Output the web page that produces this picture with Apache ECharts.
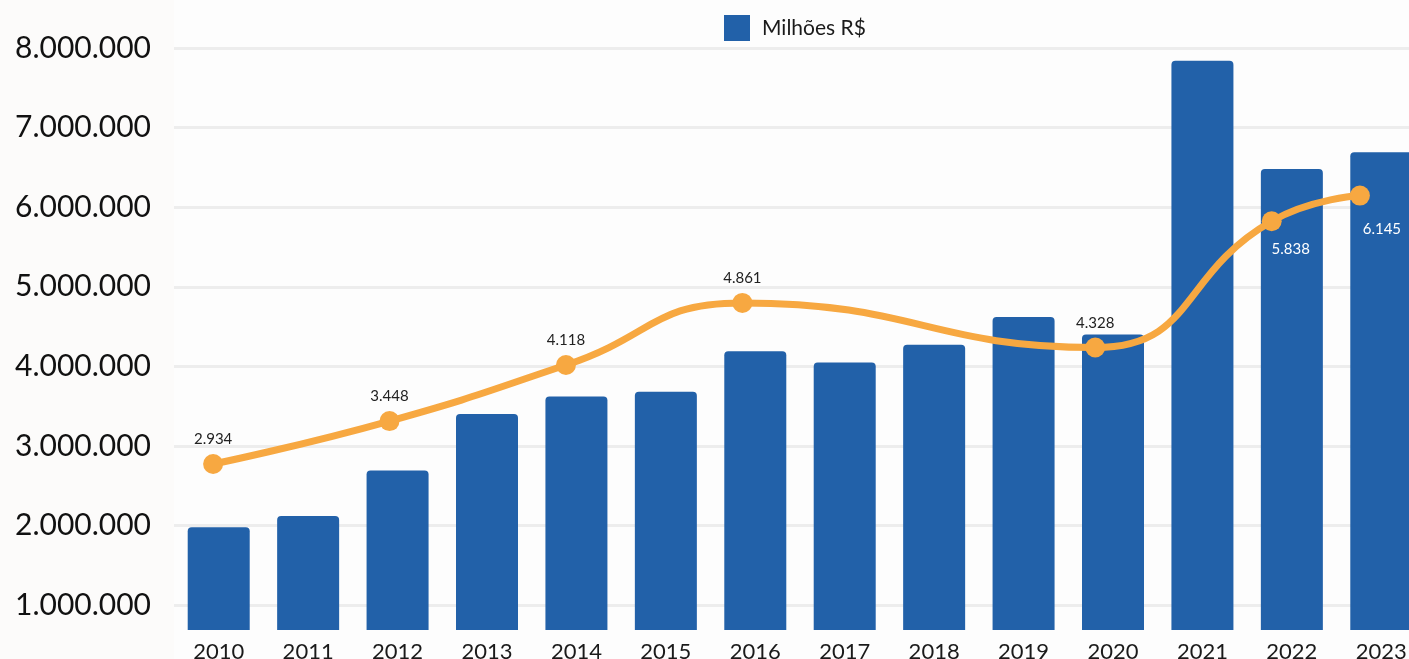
<!DOCTYPE html>
<html>
<head>
<meta charset="utf-8">
<title>Milhões R$</title>
<script src="https://cdn.jsdelivr.net/npm/echarts@6/dist/echarts.min.js"></script>
<style>
  html, body { margin: 0; padding: 0; background: #fcfbfa; }
  #grafico { width: 1409px; height: 659px; }
</style>
</head>
<body>
<div id="grafico"></div>
<script>
// anos (categorias)
var anos = ['2010', '2011', '2012', '2013', '2014', '2015', '2016', '2017', '2018', '2019', '2020', '2021', '2022', '2023'];
// barras: Milhões R$
var valoresBarras = [1978000, 2120000, 2690000, 3400000, 3620000, 3680000, 4190000, 4050000, 4270000, 4620000, 4400000, 7840000, 6480000, 6690000];
// linha (só alguns anos tem valor)
var valoresLinha = [2934, null, 3448, null, 4118, null, 4861, null, null, null, 4328, null, 5838, 6145];
// marcas do eixo y
var ticksY = [1000000, 2000000, 3000000, 4000000, 5000000, 6000000, 7000000, 8000000];

var AZUL = '#2261a9';
var LARANJA = '#f7a841';
var FONTE = 'Lato, "Noto Sans", sans-serif';

/* formata numero com ponto de milhar
* @param{number}n
*/
function fmt(n){
	return String(Math.round(n)).replace(/\B(?=(\d{3})+(?!\d))/g, '.');
}

// rotulos que ficam embaixo do ponto, em branco
var rotulosBaixo = { 12: [19, 3], 13: [22, 9] };

var dadosLinha = valoresLinha.map(function(v, i){
	if (v === null) return null;
	var item = { value: v };
	if (rotulosBaixo[i]) {
		item.label = { position: 'bottom', color: '#ffffff', offset: rotulosBaixo[i] };
	}
	return item;
});

var chart = echarts.init(document.getElementById('grafico'));

var option = {
	backgroundColor: '#fcfbfa',
	animation: false,
	textStyle: { fontFamily: FONTE },
	graphic: [{
		type: 'rect', left: 174, top: 0, z: -10,
		shape: { width: 1300, height: 659 },
		style: { fill: '#fdfdfd' }
	}],
	legend: {
		data: ['Milhões R$'],
		left: 719, top: 10,
		icon: 'rect',
		itemWidth: 26, itemHeight: 26,
		textStyle: { fontSize: 21, color: '#1a1a1a', fontFamily: FONTE, padding: [0, 0, 0, 7] }
	},
	grid: [
		{ left: 174, width: 1252, top: 48, bottom: 29, outerBoundsMode: 'none', containLabel: false },
		{ left: 169, width: 1235, top: 48, bottom: 29, outerBoundsMode: 'none', containLabel: false }
	],
	xAxis: [
		{
			type: 'category', gridIndex: 0, data: anos,
			axisLine: { show: false }, axisTick: { show: false },
			axisLabel: { fontSize: 22, color: '#1a1a1a', margin: 11, fontFamily: FONTE }
		},
		{
			type: 'category', gridIndex: 1, data: anos, show: false
		}
	],
	yAxis: [
		{
			type: 'value', gridIndex: 0,
			min: 687500, max: ticksY[ticksY.length - 1], splitNumber: 8,
			axisLine: { show: false }, axisTick: { show: false },
			axisLabel: {
				showMinLabel: false,
				fontSize: 30, color: '#111111', margin: 23, fontFamily: FONTE,
				formatter: function(v){ return ticksY.indexOf(v) >= 0 ? fmt(v) : ''; }
			},
			splitLine: { showMinLine: false, lineStyle: { color: '#ededed', width: 3 } }
		},
		{
			type: 'value', gridIndex: 1, min: 949, max: 7910, show: false,
			splitLine: { show: false }
		}
	],
	series: [
		{
			name: 'Milhões R$',
			type: 'bar',
			xAxisIndex: 0, yAxisIndex: 0,
			data: valoresBarras,
			barWidth: 62,
			itemStyle: { color: AZUL, borderRadius: [4, 4, 0, 0] }
		},
		{
			name: 'Variação',
			type: 'line',
			xAxisIndex: 1, yAxisIndex: 1,
			data: dadosLinha,
			connectNulls: true,
			smooth: true,
			symbol: 'circle',
			symbolSize: 20,
			z: 5,
			lineStyle: { color: LARANJA, width: 7 },
			itemStyle: { color: LARANJA },
			label: {
				show: true, position: 'top', distance: 7,
				fontSize: 15, color: '#222222', fontFamily: FONTE,
				formatter: function(p){ return fmt(p.value); }
			}
		}
	]
};

chart.setOption(option);
</script>
</body>
</html>
